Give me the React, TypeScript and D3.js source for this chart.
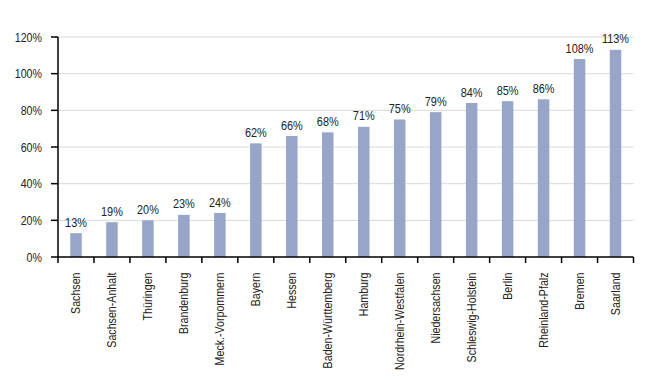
import React from "react";
import * as d3 from "d3";

const categories = ["Sachsen","Sachsen-Anhalt","Thüringen","Brandenburg","Meck.-Vorpommern","Bayern","Hessen","Baden-Württemberg","Hamburg","Nordrhein-Westfalen","Niedersachsen","Schleswig-Holstein","Berlin","Rheinland-Pfalz","Bremen","Saarland"];
const values = [13,19,20,23,24,62,66,68,71,75,79,84,85,86,108,113];
const yTicks = [0,20,40,60,80,100,120];

export default function App() {
  const W = 660, H = 380;
  const left = 58, right = 633.5, top = 37, bottom = 257;
  const x = d3.scaleBand<string>().domain(categories).range([left, right]).paddingInner(0).paddingOuter(0);
  const y = d3.scaleLinear().domain([0, 120]).range([bottom, top]);
  const font = "'Liberation Sans', Arial, sans-serif";
  const sx = 0.82;
  const bw = 11.5;
  return (
    <svg width={W} height={H} style={{ position: "absolute", left: 0, top: 0, background: "#fff" }} fontFamily={font}>
      {yTicks.filter(t => t > 0).map(t => (
        <line key={"g" + t} x1={left} x2={right} y1={y(t)} y2={y(t)} stroke="#d9d9d9" strokeWidth={1} />
      ))}
      {categories.map((c, i) => {
        const cx = x(c)! + x.bandwidth() / 2;
        return (
          <g key={c}>
            <rect x={cx - bw / 2} y={y(values[i])} width={bw} height={bottom - y(values[i])} fill="#97a6c8" />
            <text transform={`translate(${cx},${y(values[i]) - 6.5}) scale(${sx},1)`} textAnchor="middle" fontSize={13.3} fill="#222">{values[i]}%</text>
            <text transform={`translate(${cx + 4.5},${272.5}) rotate(-90) scale(${sx},1)`} textAnchor="end" fontSize={13} fill="#222">{c}</text>
          </g>
        );
      })}
      <line x1={left} x2={left} y1={top} y2={bottom} stroke="#000" strokeWidth={1.5} />
      <line x1={left} x2={right} y1={bottom} y2={bottom} stroke="#000" strokeWidth={1.5} />
      {yTicks.map(t => (
        <g key={"y" + t}>
          <line x1={left - 7} x2={left} y1={y(t)} y2={y(t)} stroke="#000" strokeWidth={1.5} />
          <text transform={`translate(42,${y(t) + 4.5}) scale(${sx},1)`} textAnchor="end" fontSize={13} fill="#222">{t}%</text>
        </g>
      ))}
      {d3.range(categories.length + 1).map(i => {
        const xx = left + i * x.bandwidth();
        return <line key={"xt" + i} x1={xx} x2={xx} y1={bottom} y2={bottom + 6} stroke="#000" strokeWidth={1.5} />;
      })}
    </svg>
  );
}
